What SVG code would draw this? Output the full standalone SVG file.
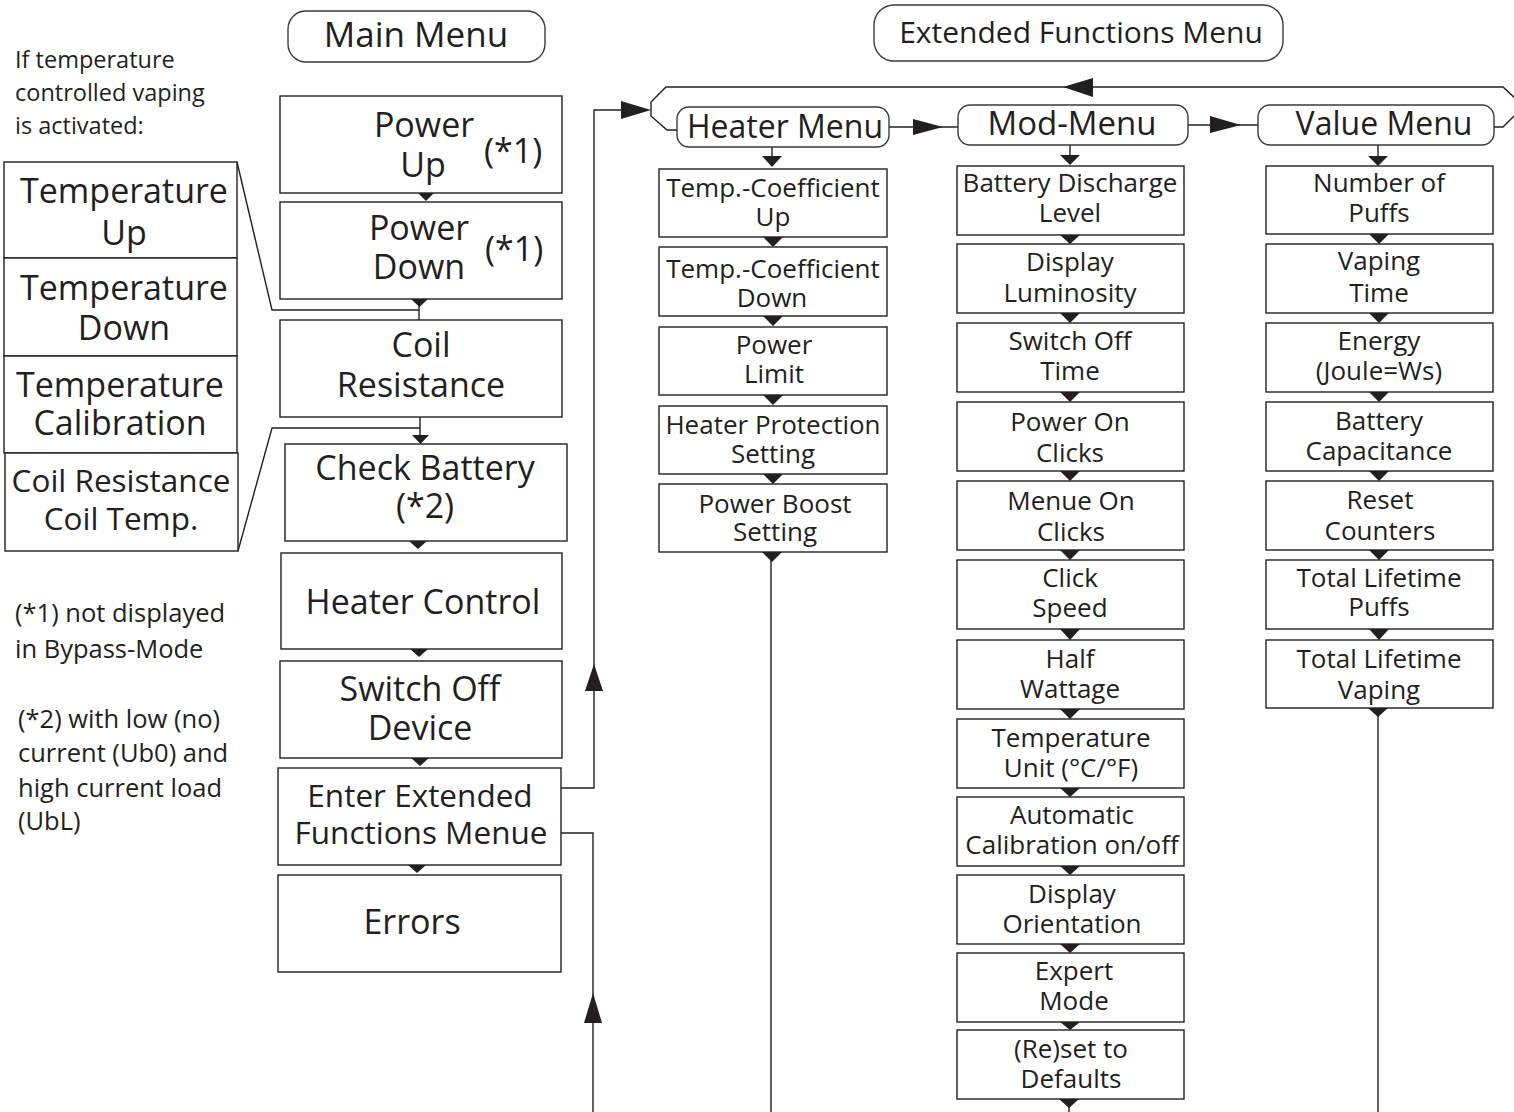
<svg xmlns="http://www.w3.org/2000/svg" width="1514" height="1112" viewBox="0 0 1514 1112">
<style>
text{font-family:"Open Sans","DejaVu Sans",sans-serif;fill:#231f20}
.c{text-anchor:middle}
.f35{font-size:35px}
.f34{font-size:34px}
.f33{font-size:33px}
.f32{font-size:32px}
.f31{font-size:31.5px}
.f30{font-size:30px}
.f26{font-size:26px}
.f25{font-size:25.5px}
.f24{font-size:23.5px}
.box{fill:#fff;stroke:#231f20;stroke-width:1.4}
.pill{fill:#fff;stroke:#3a3a3a;stroke-width:1.4}
.ln{fill:none;stroke:#231f20;stroke-width:1.4}
.ah{fill:#231f20}
</style>
<rect width="1514" height="1112" fill="#fff"/>

<g id="note-top">
<text class="f24"><tspan x="15" y="68">If temperature</tspan><tspan x="15" y="101">controlled vaping</tspan><tspan x="15" y="134">is activated:</tspan></text>
</g>
<g id="note-bottom">
<text class="f25"><tspan x="15" y="622">(*1) not displayed</tspan><tspan x="15" y="658">in Bypass-Mode</tspan></text>
<text class="f25"><tspan x="18" y="728">(*2) with low (no)</tspan><tspan x="18" y="762">current (Ub0) and</tspan><tspan x="18" y="797">high current load</tspan><tspan x="18" y="830">(UbL)</tspan></text>
</g>

<g id="main-menu">
<rect class="pill" x="288" y="11" width="257" height="51" rx="18"/>
<text class="c f35" x="416" y="47">Main Menu</text>
</g>
<g id="ext-menu">
<rect class="pill" x="874" y="5" width="409" height="56" rx="20"/>
<text class="c f30" x="1081" y="43">Extended Functions Menu</text>
</g>

<g id="connectors">
<polyline class="ln" points="237,162 272,310 419,310"/>
<line class="ln" x1="419" y1="299" x2="419" y2="320"/>
<polyline class="ln" points="238,551 272,428 420,428"/>
<line class="ln" x1="420" y1="417" x2="420" y2="436"/>
<polyline class="ln" points="561,788 594,788 594,110 622,110"/>
<polygon class="ah" points="585,691 603,691 594,664"/>
<polygon class="ah" points="621,101 651,110 621,119"/>
<polyline class="ln" points="561,833 593,833 593,1112"/>
<polygon class="ah" points="584,1023 602,1023 593,993"/>
<path class="ln" d="M677,130 H667 L651,116 V102 L666,87 H1503 L1518,101 V112 L1503,127 H1494"/>
<polygon class="ah" points="1093,78 1093,97 1063,87"/>
<line class="ln" x1="889" y1="127" x2="958" y2="127"/>
<polygon class="ah" points="913,119 913,135 943,127"/>
<line class="ln" x1="1188" y1="125" x2="1258" y2="125"/>
<polygon class="ah" points="1210,116 1210,133 1241,125"/>
<line class="ln" x1="772" y1="147" x2="772" y2="157"/>
<polygon class="ah" points="762,156 782,156 772,167"/>
<line class="ln" x1="1070" y1="145" x2="1070" y2="156"/>
<polygon class="ah" points="1060,155 1080,155 1070,165"/>
<line class="ln" x1="1378" y1="145" x2="1378" y2="157"/>
<polygon class="ah" points="1368,156 1388,156 1378,166"/>
<line class="ln" x1="771" y1="560" x2="771" y2="1112"/>
<line class="ln" x1="1378" y1="714" x2="1378" y2="1112"/>
<line class="ln" x1="1069" y1="1106" x2="1069" y2="1112"/>
<polygon class="ah" points="418,193 434,193 426,201"/>
<polygon class="ah" points="411,299 428,299 419.5,307"/>
<polygon class="ah" points="412,435 429,435 420.5,444"/>
<polygon class="ah" points="409,541 427,541 418,549"/>
<polygon class="ah" points="410,649 428,649 419,657"/>
<polygon class="ah" points="411,758 429,758 420,766"/>
<polygon class="ah" points="408,865 426,865 417,873"/>
<polygon class="ah" points="763,237 783,237 773,247"/>
<polygon class="ah" points="763,316 783,316 773,326"/>
<polygon class="ah" points="763,395 783,395 773,405"/>
<polygon class="ah" points="763,474 783,474 773,484"/>
<polygon class="ah" points="762,552 782,552 772,562"/>
<polygon class="ah" points="1060,235 1080,235 1070,244"/>
<polygon class="ah" points="1060,313 1080,313 1070,323"/>
<polygon class="ah" points="1060,392 1080,392 1070,402"/>
<polygon class="ah" points="1060,471 1080,471 1070,481"/>
<polygon class="ah" points="1060,550 1080,550 1070,560"/>
<polygon class="ah" points="1060,629 1080,629 1070,640"/>
<polygon class="ah" points="1060,709 1080,709 1070,719"/>
<polygon class="ah" points="1060,788 1080,788 1070,797"/>
<polygon class="ah" points="1060,866 1080,866 1070,875"/>
<polygon class="ah" points="1060,944 1080,944 1070,953"/>
<polygon class="ah" points="1060,1022 1080,1022 1070,1030"/>
<polygon class="ah" points="1059,1099 1079,1099 1069,1108"/>
<polygon class="ah" points="1369,234 1389,234 1379,244"/>
<polygon class="ah" points="1369,313 1389,313 1379,323"/>
<polygon class="ah" points="1369,392 1389,392 1379,402"/>
<polygon class="ah" points="1369,471 1389,471 1379,481"/>
<polygon class="ah" points="1369,550 1389,550 1379,560"/>
<polygon class="ah" points="1369,629 1389,629 1379,640"/>
<polygon class="ah" points="1368,708 1388,708 1378,717"/>
</g>

<g id="temp-up"><rect class="box" x="4" y="162" width="233" height="96"/>
<text class="c f34"><tspan x="124" y="203">Temperature</tspan><tspan x="124" y="245">Up</tspan></text></g>
<g id="temp-down"><rect class="box" x="4" y="258" width="233" height="98"/>
<text class="c f34"><tspan x="124" y="300">Temperature</tspan><tspan x="124" y="340">Down</tspan></text></g>
<g id="temp-cal"><rect class="box" x="4" y="356" width="233" height="97"/>
<text class="c f34"><tspan x="120" y="397">Temperature</tspan><tspan x="120" y="435">Calibration</tspan></text></g>
<g id="coil-temp"><rect class="box" x="5" y="453" width="233" height="98"/>
<text class="c f31"><tspan x="121" y="492">Coil Resistance</tspan><tspan x="121" y="530">Coil Temp.</tspan></text></g>

<g id="power-up"><rect class="box" x="280" y="96" width="282" height="97"/>
<text class="c f34"><tspan x="424" y="137">Power</tspan><tspan x="423" y="177">Up</tspan></text><text class="f34" x="484" y="163">(*1)</text></g>
<g id="power-down"><rect class="box" x="280" y="202" width="282" height="97"/>
<text class="c f34"><tspan x="419" y="240">Power</tspan><tspan x="419" y="279">Down</tspan></text><text class="f34" x="485" y="261">(*1)</text></g>
<g id="coil-res"><rect class="box" x="280" y="320" width="282" height="97"/>
<text class="c f34"><tspan x="421" y="357">Coil</tspan><tspan x="421" y="397">Resistance</tspan></text></g>
<g id="check-battery"><rect class="box" x="285" y="444" width="282" height="97"/>
<text class="c f34"><tspan x="425" y="480">Check Battery</tspan><tspan x="425" y="518">(*2)</tspan></text></g>
<g id="heater-control"><rect class="box" x="281" y="553" width="281" height="96"/>
<text class="c f34" x="423" y="614">Heater Control</text></g>
<g id="switch-off"><rect class="box" x="280" y="661" width="282" height="97"/>
<text class="c f34"><tspan x="420" y="701">Switch Off</tspan><tspan x="420" y="740">Device</tspan></text></g>
<g id="enter-ext"><rect class="box" x="278" y="768" width="283" height="97"/>
<text class="c f31"><tspan x="420" y="807">Enter Extended</tspan><tspan x="421" y="844">Functions Menue</tspan></text></g>
<g id="errors"><rect class="box" x="278" y="875" width="283" height="97"/>
<text class="c f34" x="412" y="934">Errors</text></g>

<g id="heater-menu"><rect class="pill" x="677" y="107" width="212" height="40" rx="12"/>
<text class="c f32" x="785" y="138">Heater Menu</text></g>
<g id="mod-menu"><rect class="pill" x="958" y="105" width="230" height="40" rx="12"/>
<text class="c f33" x="1072" y="135">Mod-Menu</text></g>
<g id="value-menu"><rect class="pill" x="1258" y="105" width="236" height="40" rx="12"/>
<text class="c f32" x="1384" y="135">Value Menu</text></g>

<g id="h1"><rect class="box" x="659" y="169" width="228" height="68"/>
<text class="c f26"><tspan x="773" y="197">Temp.-Coefficient</tspan><tspan x="773" y="226">Up</tspan></text></g>
<g id="h2"><rect class="box" x="659" y="247" width="228" height="69"/>
<text class="c f26"><tspan x="773" y="278">Temp.-Coefficient</tspan><tspan x="772" y="307">Down</tspan></text></g>
<g id="h3"><rect class="box" x="659" y="327" width="228" height="68"/>
<text class="c f26"><tspan x="774" y="354">Power</tspan><tspan x="774" y="383">Limit</tspan></text></g>
<g id="h4"><rect class="box" x="659" y="406" width="228" height="68"/>
<text class="c f26"><tspan x="773" y="434">Heater Protection</tspan><tspan x="773" y="463">Setting</tspan></text></g>
<g id="h5"><rect class="box" x="659" y="484" width="228" height="68"/>
<text class="c f26"><tspan x="775" y="513">Power Boost</tspan><tspan x="775" y="541">Setting</tspan></text></g>

<g id="m1"><rect class="box" x="957" y="166" width="227" height="69"/>
<text class="c f26"><tspan x="1070" y="192">Battery Discharge</tspan><tspan x="1070" y="222">Level</tspan></text></g>
<g id="m2"><rect class="box" x="957" y="244" width="227" height="69"/>
<text class="c f26"><tspan x="1070" y="271">Display</tspan><tspan x="1070" y="302">Luminosity</tspan></text></g>
<g id="m3"><rect class="box" x="957" y="323" width="227" height="69"/>
<text class="c f26"><tspan x="1070" y="350">Switch Off</tspan><tspan x="1070" y="380">Time</tspan></text></g>
<g id="m4"><rect class="box" x="957" y="402" width="227" height="69"/>
<text class="c f26"><tspan x="1070" y="431">Power On</tspan><tspan x="1070" y="462">Clicks</tspan></text></g>
<g id="m5"><rect class="box" x="957" y="481" width="227" height="69"/>
<text class="c f26"><tspan x="1071" y="510">Menue On</tspan><tspan x="1071" y="541">Clicks</tspan></text></g>
<g id="m6"><rect class="box" x="957" y="560" width="227" height="69"/>
<text class="c f26"><tspan x="1070" y="587">Click</tspan><tspan x="1070" y="617">Speed</tspan></text></g>
<g id="m7"><rect class="box" x="957" y="640" width="227" height="69"/>
<text class="c f26"><tspan x="1070" y="668">Half</tspan><tspan x="1070" y="698">Wattage</tspan></text></g>
<g id="m8"><rect class="box" x="957" y="719" width="227" height="69"/>
<text class="c f26"><tspan x="1071" y="747">Temperature</tspan><tspan x="1071" y="777">Unit (°C/°F)</tspan></text></g>
<g id="m9"><rect class="box" x="957" y="797" width="227" height="69"/>
<text class="c f26"><tspan x="1072" y="824">Automatic</tspan><tspan x="1072" y="854">Calibration on/off</tspan></text></g>
<g id="m10"><rect class="box" x="957" y="875" width="227" height="69"/>
<text class="c f26"><tspan x="1072" y="903">Display</tspan><tspan x="1072" y="933">Orientation</tspan></text></g>
<g id="m11"><rect class="box" x="957" y="953" width="227" height="69"/>
<text class="c f26"><tspan x="1074" y="980">Expert</tspan><tspan x="1074" y="1010">Mode</tspan></text></g>
<g id="m12"><rect class="box" x="957" y="1030" width="227" height="69"/>
<text class="c f26"><tspan x="1071" y="1058">(Re)set to</tspan><tspan x="1071" y="1088">Defaults</tspan></text></g>

<g id="v1"><rect class="box" x="1266" y="166" width="227" height="68"/>
<text class="c f26"><tspan x="1379" y="192">Number of</tspan><tspan x="1379" y="222">Puffs</tspan></text></g>
<g id="v2"><rect class="box" x="1266" y="244" width="227" height="69"/>
<text class="c f26"><tspan x="1379" y="270">Vaping</tspan><tspan x="1379" y="302">Time</tspan></text></g>
<g id="v3"><rect class="box" x="1266" y="323" width="227" height="69"/>
<text class="c f26"><tspan x="1379" y="350">Energy</tspan><tspan x="1379" y="380">(Joule=Ws)</tspan></text></g>
<g id="v4"><rect class="box" x="1266" y="402" width="227" height="69"/>
<text class="c f26"><tspan x="1379" y="430">Battery</tspan><tspan x="1379" y="460">Capacitance</tspan></text></g>
<g id="v5"><rect class="box" x="1266" y="481" width="227" height="69"/>
<text class="c f26"><tspan x="1380" y="509">Reset</tspan><tspan x="1380" y="540">Counters</tspan></text></g>
<g id="v6"><rect class="box" x="1266" y="560" width="227" height="69"/>
<text class="c f26"><tspan x="1379" y="587">Total Lifetime</tspan><tspan x="1379" y="616">Puffs</tspan></text></g>
<g id="v7"><rect class="box" x="1266" y="640" width="227" height="68"/>
<text class="c f26"><tspan x="1379" y="668">Total Lifetime</tspan><tspan x="1379" y="699">Vaping</tspan></text></g>
</svg>
